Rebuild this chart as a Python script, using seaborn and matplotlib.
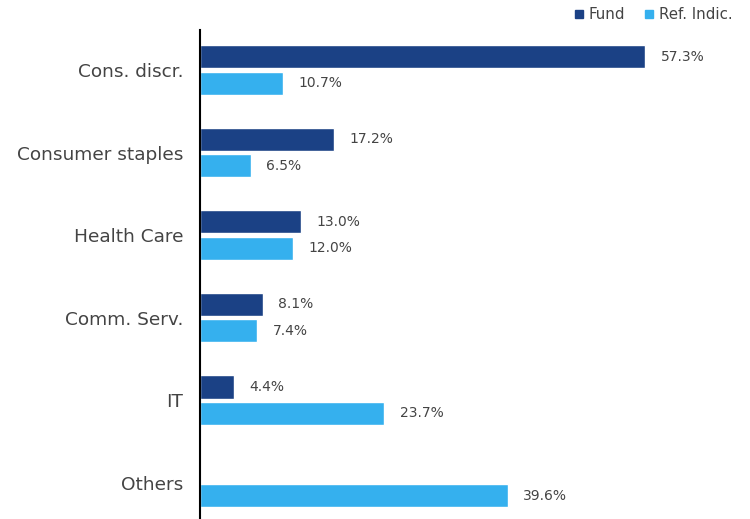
import matplotlib.pyplot as plt
import seaborn as sns
import pandas as pd
import numpy as np

# data
categories = ['Cons. discr.', 'Consumer staples', 'Health Care', 'Comm. Serv.', 'IT', 'Others']
fund = [57.3, 17.2, 13.0, 8.1, 4.4, np.nan]
ref_indic = [10.7, 6.5, 12.0, 7.4, 23.7, 39.6]
series = ['Fund', 'Ref. Indic.']
colors = ['#1b4185', '#35b0ee']

df = pd.DataFrame({
    'cat': categories * 2,
    'val': fund + ref_indic,
    'series': [series[0]] * len(categories) + [series[1]] * len(categories),
})

sns.set_style('white')
plt.rcParams['font.family'] = ['DejaVu Sans']

fig = plt.figure(figsize=(7.5, 5.19), dpi=100)
ax = fig.add_axes([200 / 750, 0, 540 / 750, 1 - 30 / 519])

sns.barplot(data=df, y='cat', x='val', hue='series', order=categories,
            hue_order=series, palette=colors, orient='h', width=0.632, gap=0.117,
            legend=False, ax=ax, saturation=1)

# value labels
for container, vals in zip(ax.containers, [fund, ref_indic]):
    for bar, v in zip(container, vals):
        if np.isnan(v):
            continue
        ax.text(bar.get_width() + 2.0, bar.get_y() + bar.get_height() / 2,
                f'{v:.1f}%', va='center', ha='left', fontsize=10, color='#444444')

ax.set_xlim(0, 69.5)
ax.set_ylim(5.442, -0.485)
ax.set_xlabel('')
ax.set_ylabel('')
ax.set_xticks([])
ax.tick_params(axis='y', length=0, pad=12, labelsize=13.3, labelcolor='#444444')
for s in ['top', 'right', 'bottom']:
    ax.spines[s].set_visible(False)
ax.spines['left'].set_color('black')
ax.spines['left'].set_linewidth(1.5)

# legend with square markers, top right
handles = [plt.Line2D([], [], marker='s', linestyle='', color=c, markersize=6) for c in colors]
fig.legend(handles, series, loc='upper right', bbox_to_anchor=(0.995, 1.012), ncol=2,
           frameon=False, fontsize=10.8, handletextpad=0.25, columnspacing=1.2,
           labelcolor='#444444', handlelength=0.8)

fig.savefig('out.png', dpi=100)
